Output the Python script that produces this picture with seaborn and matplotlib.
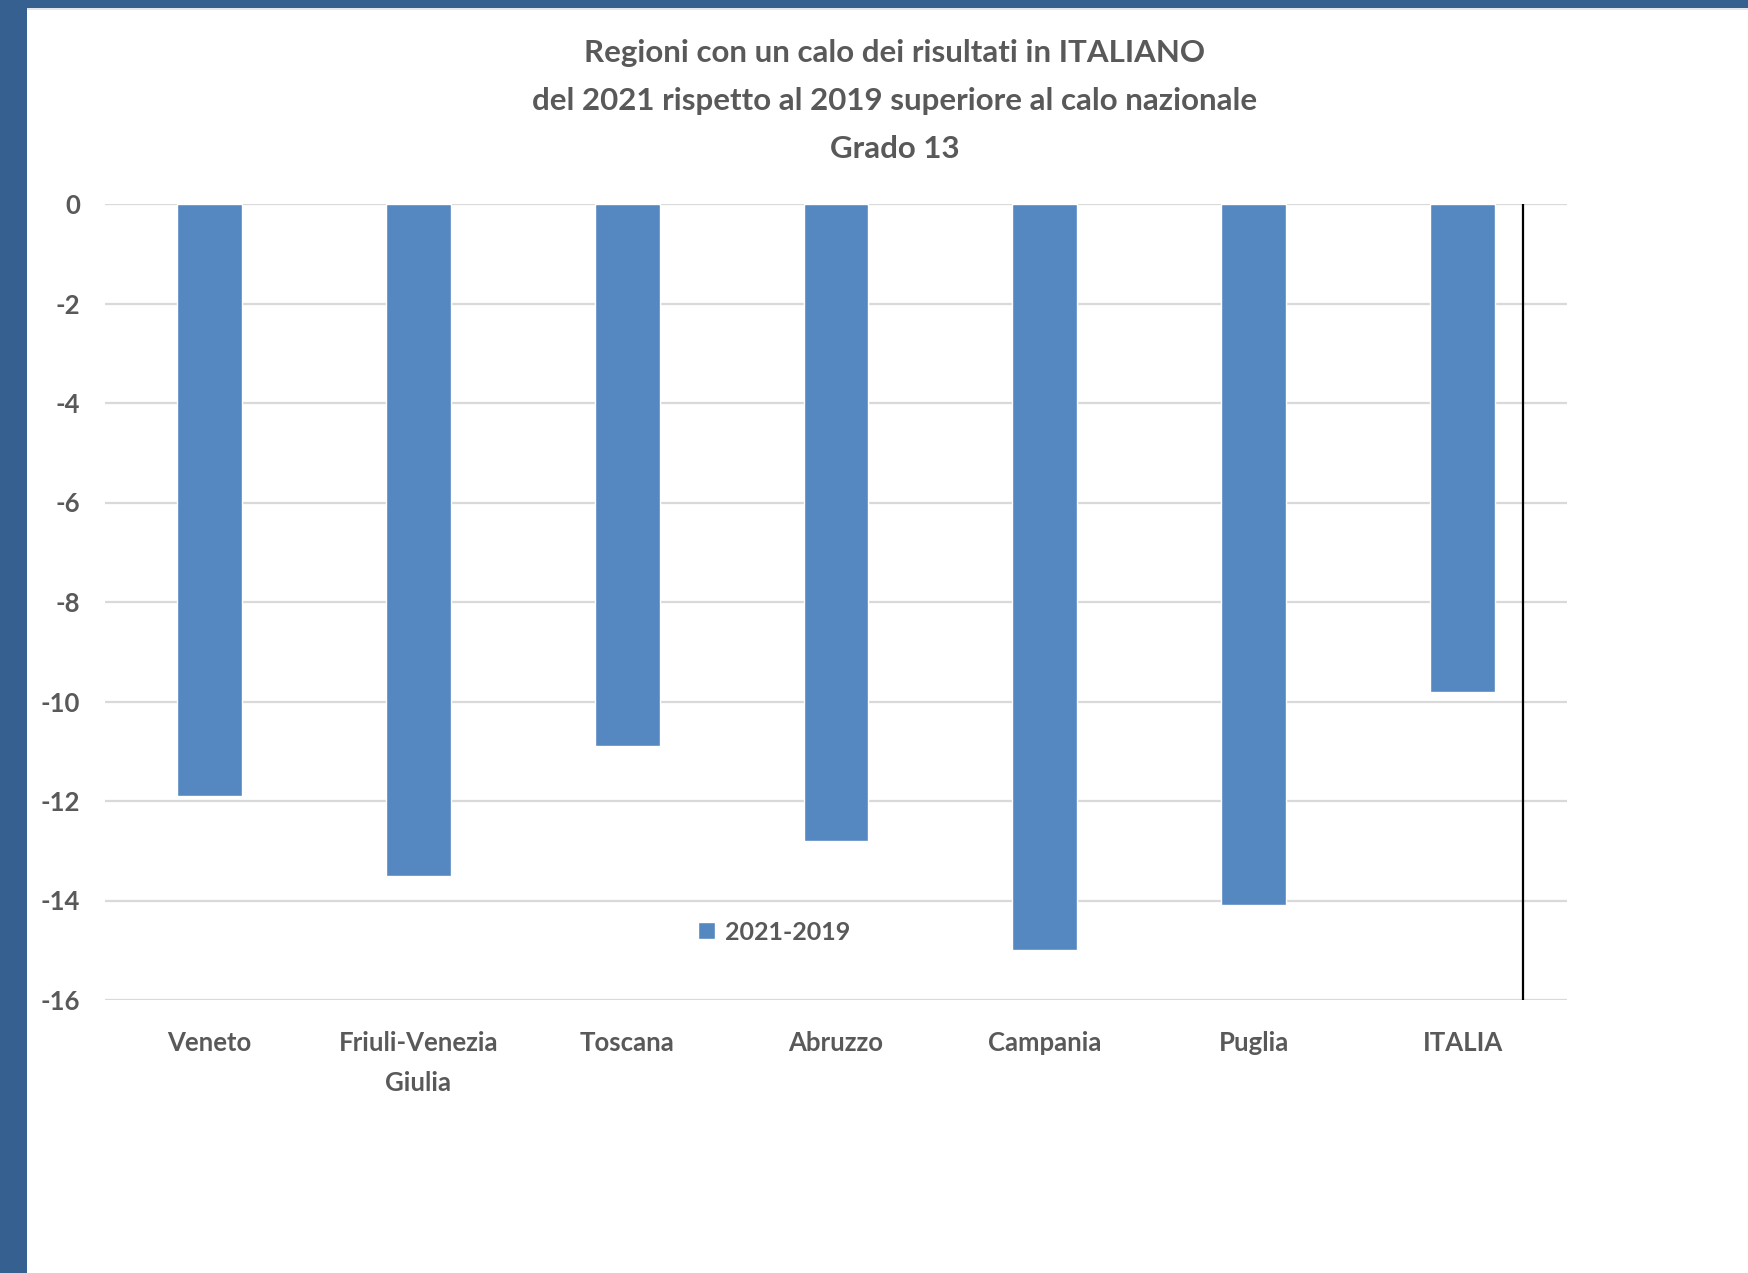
import matplotlib
matplotlib.use("Agg")
import matplotlib.pyplot as plt
from matplotlib.patches import Rectangle
import seaborn as sns
import pandas as pd

# Data: change in Italian results, 2021 vs 2019, grade 13
regioni = ["Veneto", "Friuli-Venezia\nGiulia", "Toscana", "Abruzzo", "Campania", "Puglia", "ITALIA"]
differenza = [-11.9, -13.5, -10.9, -12.8, -15.0, -14.1, -9.8]
serie = "2021-2019"
yticks = [0, -2, -4, -6, -8, -10, -12, -14, -16]

titolo = ("Regioni con un calo dei risultati in ITALIANO\n"
          "del 2021 rispetto al 2019 superiore al calo nazionale\n"
          "Grado 13")

df = pd.DataFrame({"Regione": regioni, "Valore": differenza, "Serie": serie})

sns.set_style("white")
plt.rcParams["font.family"] = ["Lato", "DejaVu Sans"]

BAR = "#5587c1"
TXT = "#595959"
GRID = "#d9d9d9"

fig = plt.figure(figsize=(17.48, 12.73), dpi=100)
fig.patch.set_facecolor("white")

# blue frame on the left and top edges
fig.add_artist(Rectangle((0, 0), 27 / 1748, 1, transform=fig.transFigure,
                         facecolor="#36608f", edgecolor="none", zorder=10))
fig.add_artist(Rectangle((0, 1 - 8 / 1273), 1, 8 / 1273, transform=fig.transFigure,
                         facecolor="#36608f", edgecolor="none", zorder=10))
fig.add_artist(Rectangle((27 / 1748, 1 - 10 / 1273), 1, 2 / 1273, transform=fig.transFigure,
                         facecolor="#e4e6ea", edgecolor="none", zorder=9))

ax = fig.add_axes([105 / 1748, 1 - 1000 / 1273, (1567 - 105) / 1748, (1000 - 204) / 1273])

sns.barplot(data=df, x="Regione", y="Valore", hue="Serie", palette=[BAR],
            width=0.31, ax=ax, saturation=1, zorder=3)

ax.set_ylim(-16, 0)
ax.set_xlim(-0.5, 6.5)
ax.set_yticks(yticks)
ax.set_yticklabels([str(v) for v in yticks])
ax.yaxis.grid(True, color=GRID, linewidth=1.6, zorder=0)
ax.set_axisbelow(True)
for s in ax.spines.values():
    s.set_visible(False)
ax.tick_params(axis="both", length=0)
ax.tick_params(axis="y", pad=18, labelsize=18.5, labelcolor=TXT)
ax.tick_params(axis="x", pad=22, labelsize=18.5, labelcolor=TXT)
for lab in ax.get_xticklabels() + ax.get_yticklabels():
    lab.set_fontweight("bold")
for lab in ax.get_xticklabels():
    lab.set_linespacing(1.8)
ax.set_xlabel("")
ax.set_ylabel("")

# vertical separator line
ax.axvline(6.29, ymin=0, ymax=1, color="black", linewidth=1.6, zorder=4)

leg = ax.legend(loc="center", bbox_to_anchor=(0.4576, 0.0854), frameon=False,
                handlelength=0.65, handleheight=0.65, handletextpad=0.4,
                prop={"weight": "bold", "size": 18})
for t in leg.get_texts():
    t.set_color(TXT)

fig.text(895 / 1748, 1 - 101 / 1273, titolo, ha="center", va="center",
         fontsize=22.5, fontweight="bold", color=TXT, linespacing=1.85)

fig.savefig("out.png", dpi=100)
